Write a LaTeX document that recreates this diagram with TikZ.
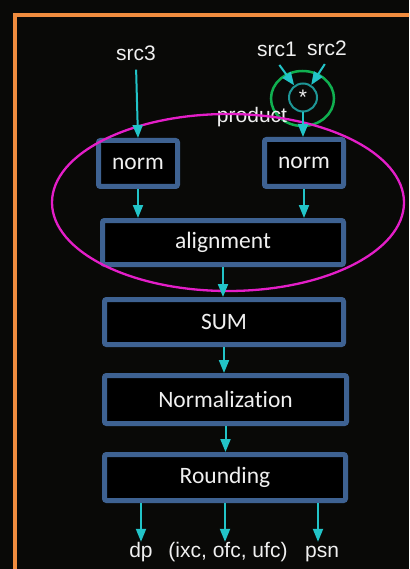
\documentclass[tikz,border=0pt]{standalone}
\usepackage{fontspec}
\setmainfont{Liberation Sans}
\newfontfamily\boxfont[Ligatures=NoCommon]{Carlito}
\usetikzlibrary{arrows.meta,shapes.geometric}

\definecolor{bgdark}{RGB}{9,9,7}
\definecolor{frameorange}{RGB}{240,140,62}
\definecolor{boxblue}{RGB}{62,98,146}
\definecolor{flowcyan}{RGB}{34,196,200}
\definecolor{multeal}{RGB}{30,150,150}
\definecolor{ringgreen}{RGB}{16,176,80}
\definecolor{groupmagenta}{RGB}{228,30,200}
\definecolor{textwhite}{RGB}{240,240,240}

\tikzset{
  stepbox/.style={draw=boxblue, line width=5pt, fill=black, rounded corners=2pt,
    inner sep=0pt, outer sep=2.5pt, text=textwhite,
    font=\boxfont\fontsize{23.5}{28}\selectfont},
  flow/.style={draw=flowcyan, line width=2pt, -{Triangle[length=13pt,width=10pt]}},
  lbl/.style={font=\fontsize{21}{25}\selectfont, text=textwhite, inner sep=0pt,
    anchor=base, text height=15pt, text depth=4.5pt},
}

\begin{document}
\begin{tikzpicture}[x=1pt,y=-1pt]
  % canvas
  \fill[bgdark] (0,0) rectangle (409,569);
  \useasboundingbox (0,0) rectangle (409,569);
  \clip (0,0) rectangle (409,569);

  % orange frame (runs off the right and bottom edges)
  \draw[frameorange, line width=4.5pt] (15,600) -- (15,15) -- (440,15);

  % processing stages
  \node[stepbox, minimum width=79pt, minimum height=46pt] (normL) at (138,163.5) {norm};
  \node[stepbox, minimum width=79pt, minimum height=47pt] (normR) at (304,163) {norm};
  \node[stepbox, minimum width=241pt, minimum height=44pt] (align) at (223,242.5) {alignment};
  \node[stepbox, minimum width=239pt, minimum height=45pt] (sum) at (224,322) {SUM};
  \node[stepbox, minimum width=242pt, minimum height=48pt] (normz) at (225.5,399.5) {Normalization};
  \node[stepbox, minimum width=241pt, minimum height=46pt] (rnd) at (225,477.5) {Rounding};

  % multiplier
  \node[circle, draw=multeal, line width=2pt, minimum size=28pt, inner sep=0pt,
        text=textwhite, font=\fontsize{21}{25}\selectfont] (mul) at (303,97.5) {*};
  \node[ellipse, draw=ringgreen, line width=2.5pt, minimum width=63pt,
        minimum height=55pt, inner sep=0pt] (ring) at (302.5,98.5) {};

  % labels
  \node[lbl] (product) at (252,123) {product};
  \node[lbl] (src3) at (136,61) {src3};
  \node[lbl] (src1) at (277,57) {src1};
  \node[lbl] (src2) at (327,56) {src2};
  \node[lbl] (dp) at (141,557) {dp};
  \node[lbl] (flags) at (228,557) {(ixc, ofc, ufc)};
  \node[lbl] (psn) at (322,557) {psn};

  % grouping of the pre-add stages
  \node[ellipse, draw=groupmagenta, line width=2.3pt, minimum width=352pt,
        minimum height=177pt, inner sep=0pt] (group) at (228,202.5) {};

  % data flow
  \draw[flow, shorten <=4pt] (src3.south) -- (normL.north);
  \draw[flow, shorten <=4pt] (src1.south) -- (mul);
  \draw[flow, shorten <=4pt] (src2.south) -- (mul);
  \draw[flow] (mul.south) -- (mul.south |- normR.north);
  \draw[flow] (normL.south) -- (normL.south |- align.north);
  \draw[flow] (normR.south) -- (normR.south |- align.north);
  \draw[flow] (align.south) -- (align.south |- sum.north);
  \draw[flow] (sum.south) -- (sum.south |- normz.north);
  \draw[flow] (normz.south) -- (normz.south |- rnd.north);
  \draw[flow] (rnd.south -| dp.north) -- (dp.north);
  \draw[flow] (rnd.south) -- (rnd.south |- flags.north);
  \draw[flow] ([xshift=-4pt]psn.north |- rnd.south) -- ([xshift=-4pt]psn.north);
\end{tikzpicture}
\end{document}
